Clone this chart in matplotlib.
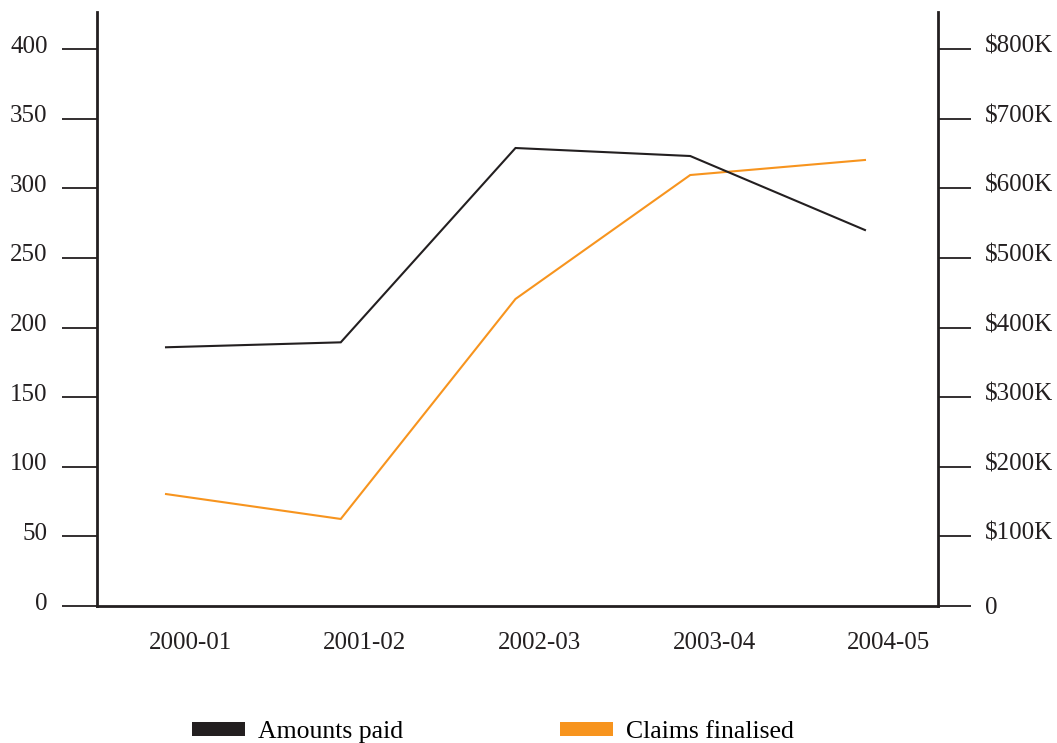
import matplotlib
matplotlib.use("Agg")
import matplotlib.pyplot as plt
from matplotlib.patches import Patch
from matplotlib.transforms import ScaledTranslation

# ---- data ----
years = ["2000-01", "2001-02", "2002-03", "2003-04", "2004-05"]
amounts_paid_k = [371.6, 378.7, 657.8, 646.3, 540.0]   # right axis ($K)
claims_finalised = [80.4, 62.5, 220.5, 309.5, 320.3]    # left axis (count)
left_ticks = [0, 50, 100, 150, 200, 250, 300, 350, 400]
right_ticks = [0, 100, 200, 300, 400, 500, 600, 700, 800]
right_labels = ["0"] + [f"${v}K" for v in right_ticks[1:]]

INK = "#231f20"
ORANGE = "#f7941e"
FONT = "Liberation Serif"
FS = 18
LFS = 18.5

plt.rcParams["font.family"] = [FONT, "DejaVu Serif"]

W, H = 1057, 743
fig = plt.figure(figsize=(W / 100, H / 100), dpi=100)
ax = fig.add_axes([97 / W, (H - 606) / H, (938 - 97) / W, (606 - 12) / H])
ax2 = ax.twinx()

x = list(range(len(years)))
ax.plot(x, claims_finalised, color=ORANGE, lw=1.5, zorder=3, solid_joinstyle="miter")
ax2.plot(x, amounts_paid_k, color=INK, lw=1.5, zorder=3, solid_joinstyle="miter")

ax.set_xlim(-0.395, 4.418)
top_left = 400 * (606 - 12) / 557
ax.set_ylim(0, top_left)
ax2.set_ylim(0, top_left * 2)

for a in (ax, ax2):
    for s in a.spines.values():
        s.set_visible(False)
ax.spines["left"].set_visible(True)
ax.spines["bottom"].set_visible(True)
ax2.spines["right"].set_visible(True)
for s in (ax.spines["left"], ax.spines["bottom"], ax2.spines["right"]):
    s.set_color(INK)
    s.set_linewidth(2.0)

ax.set_yticks(left_ticks)
ax.set_yticklabels([str(v) for v in left_ticks])
ax2.set_yticks(right_ticks)
ax2.set_yticklabels(right_labels)
ax.set_xticks(x)
ax.set_xticklabels(years)

ax.tick_params(axis="y", length=25, width=1.3, color=INK, labelsize=FS,
               labelcolor=INK, pad=10.5, direction="out")
ax2.tick_params(axis="y", length=24, width=1.3, color=INK, labelsize=FS,
                labelcolor=INK, pad=9.5, direction="out")
ax.tick_params(axis="x", length=0, labelsize=FS, labelcolor=INK, pad=18.5)

# text offsets
up = ScaledTranslation(0, 5 / 100, fig.dpi_scale_trans)
for t in ax.yaxis.get_major_ticks():
    t.label1.set_transform(t.label1.get_transform() + up)
for i, t in enumerate(ax2.yaxis.get_major_ticks()):
    if i > 0:
        t.label2.set_transform(t.label2.get_transform() + up)
right_shift = ScaledTranslation(24 / 100, 0, fig.dpi_scale_trans)
for t in ax.xaxis.get_major_ticks():
    t.label1.set_transform(t.label1.get_transform() + right_shift)

handles = [Patch(facecolor=INK, edgecolor="none", label="Amounts paid"),
           Patch(facecolor=ORANGE, edgecolor="none", label="Claims finalised")]
fig.legend(handles=handles, loc="center", bbox_to_anchor=(493 / W, 11 / H),
           ncol=2, frameon=False, fontsize=LFS, handlelength=2.06, handleheight=0.47,
           handletextpad=0.5, columnspacing=6.1, borderpad=0, borderaxespad=0)

fig.savefig("out.png", dpi=100)
